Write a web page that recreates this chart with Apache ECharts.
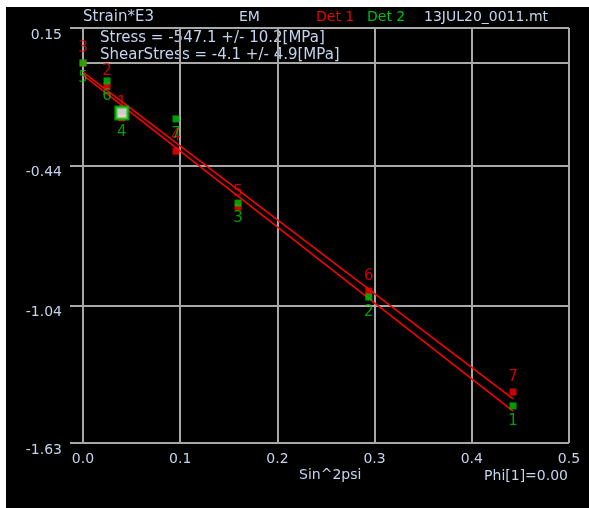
<!DOCTYPE html>
<html><head><meta charset="utf-8">
<script src="https://cdn.jsdelivr.net/npm/echarts@6/dist/echarts.min.js"></script>
<style>
html,body{margin:0;padding:0;background:#fff;width:589px;height:508px;overflow:hidden}
#c{position:absolute;left:6px;top:7px;width:583px;height:501px;background:#000}
</style></head><body><div id="c"></div>
<script>
// sin^2(psi) positions of the measurements
const sin2psi = [0.0, 0.0247, 0.040, 0.0957, 0.1595, 0.294, 0.4424];
// Det 1 strain*E3 values and point numbers
const det1Strain = [0.0, -0.099, -0.236, -0.378, -0.618, -0.978, -1.411];
const det1Labels = ['3', '2', '1', '4', '5', '6', '7'];
// Det 2 strain*E3 values and point numbers
const det2Strain = [0.0, -0.077, -0.215, -0.240, -0.601, -1.004, -1.471];
const det2Labels = ['5', '6', '4', '7', '3', '2', '1'];
const det2Selected = 2;
// regression lines (start / end)
const fit1 = [[0.0, -0.039], [0.4424, -1.441]];
const fit2 = [[0.0, -0.052], [0.4424, -1.493]];
// axis ticks
const yTicks = [-1.63, -1.04, -0.44, 0.15];
const xTicks = [0.0, 0.1, 0.2, 0.3, 0.4, 0.5];

const FONT = 'DejaVu Sans';
const TXT = '#c4d4ec';
const GRID = '#a8a8a8';
const RED = '#ff0000';
const GREEN = '#00c400';

const chart = echarts.init(document.getElementById('c'));
const d1 = sin2psi.map((x, i) => ({value: [x, det1Strain[i]], name: det1Labels[i]}));
const d2 = sin2psi.map((x, i) => {
  const o = {value: [x, det2Strain[i]], name: det2Labels[i]};
  if (i === det2Selected) {
    o.symbolSize = 12;
    o.itemStyle = {color: '#ffffff', borderColor: GREEN, borderWidth: 3};
  }
  return o;
});

chart.setOption({
  animation: false,
  backgroundColor: '#000',
  grid: {left: 77, top: 21, width: 486, height: 415, containLabel: false},
  xAxis: {
    type: 'value', min: 0, max: 0.5, interval: 0.1,
    axisLine: {show: true, lineStyle: {color: GRID, width: 2}},
    axisTick: {show: false},
    splitLine: {show: true, lineStyle: {color: GRID, width: 2}},
    axisLabel: {color: TXT, fontFamily: FONT, fontSize: 14, margin: 9,
      formatter: v => v.toFixed(1)}
  },
  yAxis: {
    type: 'value', min: -1.63, max: 0.15,
    axisLine: {show: false},
    axisTick: {show: true, length: 13, customValues: yTicks, lineStyle: {color: GRID, width: 2}},
    splitLine: {show: true, lineStyle: {color: GRID, width: 2}},
    axisLabel: {color: TXT, fontFamily: FONT, fontSize: 14, margin: 21,
      customValues: yTicks, verticalAlign: 'top',
      formatter: v => v.toFixed(2)}
  },
  graphic: [
    {type: 'text', left: 77, top: 3, style: {text: 'Strain*E3', fill: TXT, font: '15px ' + FONT}},
    {type: 'text', left: 233, top: 3, style: {text: 'EM', fill: TXT, font: '14px ' + FONT}},
    {type: 'text', left: 310, top: 3, style: {text: 'Det 1', fill: '#e80000', font: '14px ' + FONT}},
    {type: 'text', left: 361, top: 3, style: {text: 'Det 2', fill: '#00c000', font: '14px ' + FONT}},
    {type: 'text', left: 418, top: 3, style: {text: '13JUL20_0011.mt', fill: TXT, font: '14px ' + FONT}},
    {type: 'text', left: 94, top: 24, style: {text: 'Stress = -547.1 +/- 10.2[MPa]', fill: TXT, font: '15px ' + FONT}},
    {type: 'text', left: 94, top: 41, style: {text: 'ShearStress = -4.1 +/- 4.9[MPa]', fill: TXT, font: '15px ' + FONT}},
    {type: 'text', left: 293, top: 461, style: {text: 'Sin^2psi', fill: TXT, font: '14px ' + FONT}},
    {type: 'text', right: 21, top: 462, style: {text: 'Phi[1]=0.00', fill: TXT, font: '14px ' + FONT}}
  ],
  series: [
    {type: 'line', data: fit1, symbol: 'none', z: 3,
      lineStyle: {color: RED, width: 1.5}},
    {type: 'line', data: fit2, symbol: 'none', z: 3,
      lineStyle: {color: RED, width: 1.5}},
    {type: 'scatter', name: 'Det 1', data: d1, symbol: 'rect', symbolSize: 7, z: 2,
      itemStyle: {color: RED},
      label: {show: true, position: 'top', distance: 4, formatter: p => p.name,
        color: RED, fontFamily: FONT, fontSize: 15}},
    {type: 'scatter', name: 'Det 2', data: d2, symbol: 'rect', symbolSize: 7, z: 4,
      itemStyle: {color: GREEN},
      label: {show: true, position: 'bottom', distance: 4, formatter: p => p.name,
        color: GREEN, fontFamily: FONT, fontSize: 15}}
  ]
});
</script></body></html>
